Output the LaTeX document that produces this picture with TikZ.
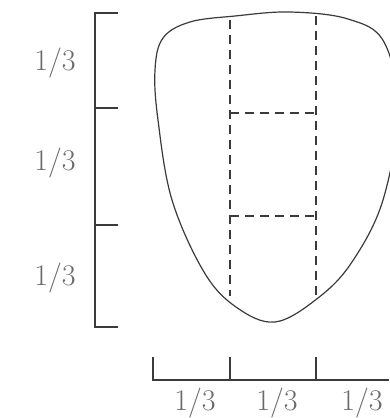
\documentclass[tikz,border=0pt]{standalone}
\usepackage{tikz}
\usetikzlibrary{positioning}
\definecolor{ink}{HTML}{3A3A3A}
\definecolor{pencil}{HTML}{6A6A6A}
\tikzset{outline/.style={draw=ink,line width=1.2pt},
  guide/.style={draw=ink,line width=1.3pt,dash pattern=on 9pt off 6pt},
  ruler/.style={draw=ink,line width=1.6pt},
  frac/.style={text=pencil,font=\fontsize{30}{34}\selectfont,inner sep=0pt}}

\begin{document}
\begin{tikzpicture}[x=1pt,y=-1pt]
\useasboundingbox (0,0) rectangle (389,418);
% blade outline
\draw[outline] plot[smooth cycle,tension=0.6] coordinates {(290,12) (348,19) (384,42) (398,110)
  (383,200) (352,262) (318,298) (275,322) (236,307) (204,272) (172,200) (158,120)
  (155,70) (163,38) (190,22) (235,16)};
% dashed thirds
\draw[guide] (230,20) -- (230,296);
\draw[guide] (316,16) -- (316,296);
\draw[guide] (230,113) -- (316,113);
\draw[guide] (230,216) -- (316,216);
% left scale
\draw[ruler] (118,13) -- (95,13) -- (95,327) -- (118,327);
\draw[ruler] (95,108) -- (118,108);
\draw[ruler] (95,225) -- (118,225);
\node[frac] (h1) at (55,63) {1/3};
\node[frac] (h2) at (55,163) {1/3};
\node[frac] (h3) at (55,278) {1/3};
% bottom scale
\draw[ruler] (153,357) -- (153,380) -- (389,380);
\draw[ruler] (230,357) -- (230,380);
\draw[ruler] (316,357) -- (316,380);
\node[frac] (w1) at (195,403) {1/3};
\node[frac] (w2) at (277,403) {1/3};
\node[frac] (w3) at (362,403) {1/3};
\end{tikzpicture}
\end{document}
